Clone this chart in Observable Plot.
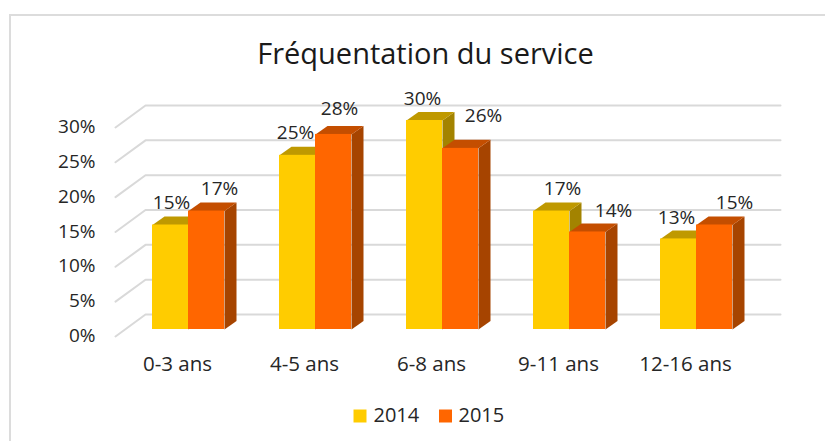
<!DOCTYPE html>
<html><head><meta charset="utf-8">
<style>
html,body{margin:0;padding:0;background:#fff;width:825px;height:441px;overflow:hidden;position:relative}
svg{display:block}
#border{position:absolute;left:9px;top:14px;right:0;bottom:0;border-top:2px solid #dcdcdc;border-left:2px solid #dcdcdc}
</style>
<script src="https://cdn.jsdelivr.net/npm/d3@7"></script>
<script src="https://cdn.jsdelivr.net/npm/@observablehq/plot@0.6"></script>
</head><body><script>
const title = "Fréquentation du service";
const categories = ["0-3 ans","4-5 ans","6-8 ans","9-11 ans","12-16 ans"];
const years = ["2014","2015"];
const values2014 = [15,25,30,17,13];
const values2015 = [17,28,26,14,15];
const yTicks = [0,5,10,15,20,25,30];

const font = "'Open Sans', sans-serif";
const ink = "#262626";
const colors = {
  "2014": {front:"#ffcc00", top:"#bf9900", side:"#a38300"},
  "2015": {front:"#ff6600", top:"#c44e00", side:"#a64400"}
};
// depth of the pseudo-3D faces, converted to data units
const pxX = 127, pxY = 209/30;
const barW = 36/pxX, depthX = 12/pxX, depthY = 8.5/pxY;
const wallBackX = -0.5 + 20.5/pxX, wallFrontX = -0.5 - 9.5/pxX, wallEndX = 4.5 + 20.5/pxX;
const wallFront = -1, wallBack = 2.15;

// hand-placed data labels: [dx, dy] from the top-centre of each bar
const shift2014 = [[1,-22],[-2,-22],[-2,-22],[11,-22],[-2,-21]];
const shift2015 = [[13,-22],[6,-26],[23,-32],[26,-21],[20,-22]];

const bars = [];
categories.forEach((c,i)=>{
  bars.push({i,year:"2014",v:values2014[i],x0:i-barW,x1:i,shift:shift2014[i]});
  bars.push({i,year:"2015",v:values2015[i],x0:i,x1:i+barW,shift:shift2015[i]});
});
const topFaces = bars.flatMap((b,k)=>[
  [b.x0,b.v],[b.x1,b.v],[b.x1+depthX,b.v+depthY],[b.x0+depthX,b.v+depthY]
].map(([x,y])=>({x,y,k,year:b.year})));
const sideFaces = bars.flatMap((b,k)=>[
  [b.x1,0],[b.x1+depthX,depthY],[b.x1+depthX,b.v+depthY],[b.x1,b.v]
].map(([x,y])=>({x,y,k,year:b.year})));
const grid = yTicks.flatMap(v=>[
  {x:wallFrontX,y:v+wallFront,v},{x:wallBackX,y:v+wallBack,v},{x:wallEndX,y:v+wallBack,v}
]);

const legendMarks = (year,swatchX,textX)=>[
  Plot.dot([year],{frameAnchor:"top-left",dx:swatchX,dy:415.5,symbol:"square",r:7.33,fill:d=>colors[d].front}),
  Plot.text([year],{frameAnchor:"top-left",dx:textX,dy:415,text:d=>d,textAnchor:"start",lineAnchor:"middle",fontSize:20,fill:ink})
];

const chart = Plot.plot({
  width:825, height:441,
  marginLeft:98, marginBottom:89, marginTop:0, marginRight:0,
  style:{fontFamily:font, background:"transparent"},
  x:{domain:[-0.5,4.5], range:[124.5,759.5], axis:null},
  y:{domain:[0,30], range:[329,120], axis:null},
  marks:[
    Plot.text([title],{text:d=>d, frameAnchor:"top", lineAnchor:"middle", dx:-36.5, dy:54, fontSize:29, fill:"#1a1a1a"}),
    Plot.line(grid,{x:"x",y:"y",z:"v",stroke:"#d9d9d9",strokeWidth:2}),
    Plot.axisY({ticks:yTicks, tickSize:0, tickPadding:3, dy:6.5, fontSize:19, fill:ink, tickFormat:d=>d+"%"}),
    Plot.axisX({ticks:d3.range(categories.length), tickSize:0, tickPadding:4, dx:-11, fontSize:20.5, fill:ink, tickFormat:i=>categories[i], anchor:"bottom"}),
    Plot.line(sideFaces,{x:"x",y:"y",z:"k",fill:d=>colors[d.year].side,stroke:null}),
    Plot.line(topFaces,{x:"x",y:"y",z:"k",fill:d=>colors[d.year].top,stroke:null}),
    Plot.rect(bars,{x1:"x0",x2:"x1",y1:0,y2:"v",fill:d=>colors[d.year].front}),
    ...bars.map(b=>Plot.text([b],{x:(b.x0+b.x1)/2,y:"v",text:d=>d.v+"%",dx:b.shift[0],dy:b.shift[1],fontSize:19,fill:ink})),
    ...legendMarks(years[0],261.5,275),
    ...legendMarks(years[1],347,360)
  ]
});
document.body.appendChild(chart);
const border=document.createElement("div");border.id="border";document.body.appendChild(border);
</script></body></html>
